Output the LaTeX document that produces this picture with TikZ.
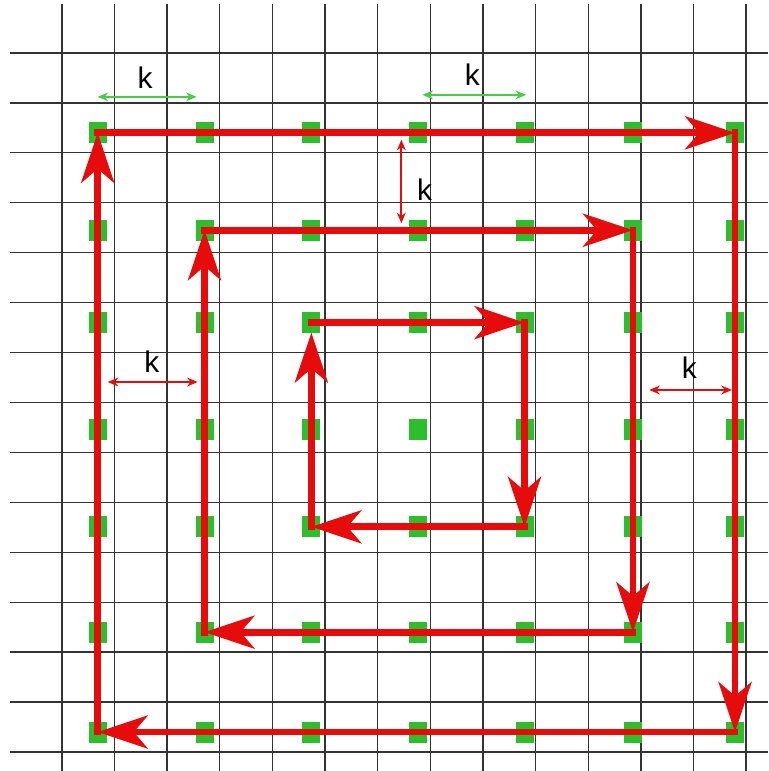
\documentclass[tikz,border=0pt]{standalone}
\usepackage{fontspec}
\setmainfont{Liberation Sans}
\usetikzlibrary{arrows.meta}
\definecolor{spiralred}{RGB}{230,12,12}
\definecolor{dotgreen}{RGB}{45,190,45}
\definecolor{dimgreen}{RGB}{70,205,70}

\begin{document}
\begin{tikzpicture}[x=1.054cm,y=1cm, every node/.style={font=\fontsize{17}{20}\selectfont},
    gdot/.style={rectangle, fill=dotgreen, minimum width=0.36cm, minimum height=0.42cm, inner sep=0pt},
    spiral/.style={spiralred, line width=3.8pt, line cap=rect, -{Stealth[length=1cm,width=0.66cm,inset=0.28cm]}},
    dimline/.style={line width=1.1pt, {Stealth[length=6pt,width=5pt]}-{Stealth[length=6pt,width=5pt]}}]
    \useasboundingbox (-1.176,-0.38) rectangle (13.416,15.06);
    \foreach \c in {0,...,13} \draw[black!80, line width=0.8pt] (\c,-0.38) -- (\c,14.98);
    \foreach \r in {0,...,14} \draw[black!80, line width=0.8pt] (-0.99,\r) -- (13.42,\r);
    \foreach \x [count=\i from 0] in {0.68,2.71,4.74,6.77,8.79,10.85,12.79}
        \foreach \y [count=\j from 0] in {12.40,10.45,8.60,6.45,4.51,2.40,0.40}
            \node[gdot] (d\i\j) at (\x,\y) {};
    \draw[spiral] (d00.center) -- (d60.center);
    \draw[spiral] (d60.center) -- (d66.center);
    \draw[spiral] (d66.center) -- (d06.center);
    \draw[spiral] (d06.center) -- (d00.center);
    \draw[spiral] (d11.center) -- (d51.center);
    \draw[spiral] (d51.center) -- (d55.center);
    \draw[spiral] (d55.center) -- (d15.center);
    \draw[spiral] (d15.center) -- (d11.center);
    \draw[spiral] (d22.center) -- (d42.center);
    \draw[spiral] (d42.center) -- (d44.center);
    \draw[spiral] (d44.center) -- (d24.center);
    \draw[spiral, shorten >=0.2cm] (d24.center) -- (d22.center);
    \coordinate (k1a) at (0.68,13.12);
    \coordinate (k1b) at (2.56,13.12);
    \coordinate (k2a) at (6.85,13.16);
    \coordinate (k2b) at (8.82,13.16);
    \coordinate (k3a) at (6.45,12.26);
    \coordinate (k3b) at (6.45,10.59);
    \coordinate (k4a) at (0.87,7.41);
    \coordinate (k4b) at (2.58,7.41);
    \coordinate (k5a) at (11.16,7.25);
    \coordinate (k5b) at (12.73,7.25);
    \draw[dimline, dimgreen] (k1a) -- (k1b);
    \draw[dimline, dimgreen] (k2a) -- (k2b);
    \draw[dimline, spiralred] (k3a) -- (k3b);
    \draw[dimline, spiralred] (k4a) -- (k4b);
    \draw[dimline, spiralred] (k5a) -- (k5b);
    \node (k1) at (1.58,13.51) {k};
    \node (k2) at (7.80,13.56) {k};
    \node (k3) at (6.89,11.26) {k};
    \node (k4) at (1.71,7.81) {k};
    \node (k5) at (11.92,7.69) {k};
\end{tikzpicture}
\end{document}
